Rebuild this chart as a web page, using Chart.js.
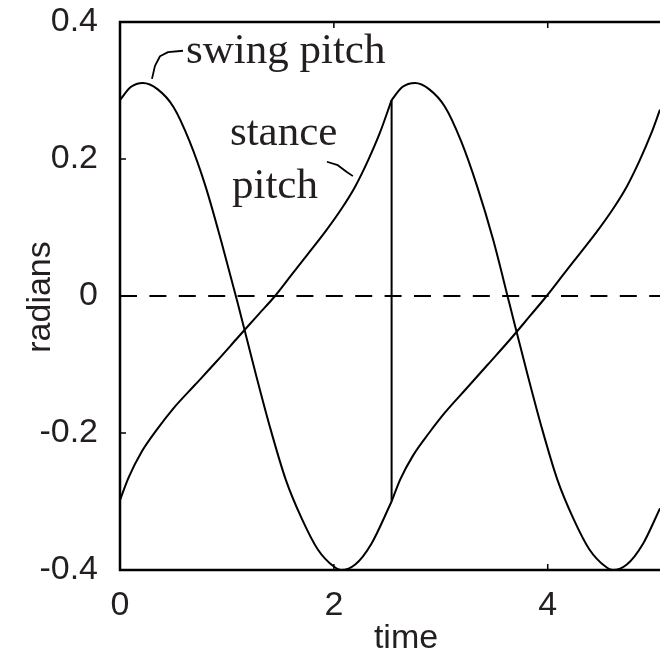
<!DOCTYPE html>
<html>
<head>
<meta charset="utf-8">
<script src="https://cdn.jsdelivr.net/npm/chart.js@4.4.1/dist/chart.umd.min.js"></script>
<style>
  html, body { margin: 0; padding: 0; background: #fff; }
  #wrap { width: 660px; height: 657px; position: relative; }
</style>
</head>
<body>
<div id="wrap"><canvas id="chartPitch"></canvas></div>
<script>
// axis setup
const xTicks = [0, 2, 4];
const xTickLabels = ['0', '2', '4'];
const yTicks = [-0.4, -0.2, 0, 0.2, 0.4];
const yTickLabels = ['-0.4', '-0.2', '0', '0.2', '0.4'];
const xMax = 5.05;

// first step: leg A swings, leg B stands
const swingT1 = [0, 0.1, 0.215, 0.35, 0.5, 0.65, 0.8, 0.95, 1.1, 1.25, 1.4, 1.55, 1.7, 1.85, 2.0, 2.07, 2.2, 2.35, 2.54];
const swingY1 = [0.286, 0.305, 0.311, 0.302, 0.276, 0.226, 0.160, 0.078, -0.010, -0.102, -0.190, -0.268, -0.325, -0.370, -0.395, -0.400, -0.392, -0.362, -0.300];
const stanceT1 = [0, 0.08, 0.2, 0.35, 0.5, 0.7, 0.9, 1.1, 1.3, 1.45, 1.6, 1.76, 1.92, 2.07, 2.2, 2.32, 2.43, 2.54];
const stanceY1 = [-0.298, -0.265, -0.228, -0.194, -0.164, -0.130, -0.096, -0.061, -0.026, 0.000, 0.030, 0.062, 0.094, 0.127, 0.160, 0.198, 0.238, 0.286];

// second step: legs swap at heel strike
const swingT2 = [2.54, 2.64, 2.76, 2.89, 3.04, 3.19, 3.34, 3.49, 3.64, 3.79, 3.94, 4.09, 4.24, 4.39, 4.54, 4.61, 4.74, 4.89, 5.05];
const swingY2 = [0.286, 0.305, 0.311, 0.302, 0.276, 0.226, 0.160, 0.082, -0.010, -0.102, -0.190, -0.268, -0.325, -0.370, -0.395, -0.400, -0.392, -0.362, -0.310];
const stanceT2 = [2.54, 2.62, 2.74, 2.89, 3.04, 3.24, 3.44, 3.64, 3.84, 3.99, 4.14, 4.30, 4.46, 4.61, 4.74, 4.86, 4.97, 5.05];
const stanceY2 = [-0.300, -0.268, -0.233, -0.200, -0.170, -0.135, -0.100, -0.065, -0.028, 0.000, 0.030, 0.062, 0.094, 0.127, 0.160, 0.198, 0.238, 0.272];

// callouts, in data units
const swingLabel = { text: 'swing pitch', t: 0.617, y: 0.340 };
const swingLeader = [[0.299, 0.317], [0.327, 0.336], [0.374, 0.350], [0.449, 0.356], [0.589, 0.358]];
const stanceLabel = [{ text: 'stance', t: 1.028, y: 0.220 }, { text: 'pitch', t: 1.047, y: 0.143 }];
const stanceLeader = [[1.935, 0.196], [2.037, 0.191], [2.121, 0.181], [2.178, 0.175]];

const INK = '#000';
const TEXT = '#231f20';
const SANS = '"Liberation Sans", Arial, Helvetica, sans-serif';
const SERIF = '"Liberation Serif", "Times New Roman", serif';

function _pts(ts, ys) {
  return ts.map((t, i) => ({ x: t, y: ys[i] }));
}

function _curve(ts, ys) {
  return {
    data: _pts(ts, ys),
    borderColor: INK,
    borderWidth: 2,
    pointRadius: 0,
    cubicInterpolationMode: 'monotone',
    fill: false
  };
}

const stepT = swingT1[swingT1.length - 1];
const datasets = [
  _curve(swingT1, swingY1),
  _curve(stanceT1, stanceY1),
  _curve(swingT2, swingY2),
  _curve(stanceT2, stanceY2),
  {
    // heel strike
    data: [{ x: stepT, y: swingY1[swingY1.length - 1] }, { x: stepT, y: stanceY1[stanceY1.length - 1] }],
    borderColor: INK, borderWidth: 2, pointRadius: 0
  },
  {
    data: [{ x: 0, y: 0 }, { x: xMax, y: 0 }],
    borderColor: INK, borderWidth: 2, borderDash: [17, 12.4], pointRadius: 0
  }
];

const framePlugin = {
  id: 'frameAndNotes',
  afterDraw(chart) {
    const { ctx, chartArea: a, scales: { x, y } } = chart;
    ctx.save();

    // box: left, top, bottom (right side runs off the figure)
    ctx.strokeStyle = INK;
    ctx.lineWidth = 2.5;
    ctx.beginPath();
    ctx.moveTo(a.right, a.top);
    ctx.lineTo(a.left, a.top);
    ctx.lineTo(a.left, a.bottom);
    ctx.lineTo(a.right, a.bottom);
    ctx.stroke();

    // inward ticks
    ctx.lineWidth = 1.5;
    ctx.beginPath();
    yTicks.forEach(v => {
      const py = y.getPixelForValue(v);
      ctx.moveTo(a.left, py);
      ctx.lineTo(a.left + 6, py);
    });
    xTicks.forEach(v => {
      const px = x.getPixelForValue(v);
      ctx.moveTo(px, a.bottom);
      ctx.lineTo(px, a.bottom - 6);
      ctx.moveTo(px, a.top);
      ctx.lineTo(px, a.top + 6);
    });
    ctx.stroke();

    // axis titles
    ctx.fillStyle = TEXT;
    ctx.font = `34px ${SANS}`;
    ctx.textAlign = 'center';
    ctx.textBaseline = 'alphabetic';
    ctx.fillText('time', 406, 648);
    ctx.save();
    ctx.translate(50, 297);
    ctx.rotate(-Math.PI / 2);
    ctx.fillText('radians', 0, 0);
    ctx.restore();

    // callouts
    ctx.font = `43px ${SERIF}`;
    ctx.textAlign = 'left';
    ctx.fillText(swingLabel.text, x.getPixelForValue(swingLabel.t), y.getPixelForValue(swingLabel.y));
    stanceLabel.forEach(l => ctx.fillText(l.text, x.getPixelForValue(l.t), y.getPixelForValue(l.y)));

    ctx.lineWidth = 1.8;
    ctx.lineJoin = 'round';
    [swingLeader, stanceLeader].forEach(path => {
      ctx.beginPath();
      path.forEach(([t, v], i) => {
        const px = x.getPixelForValue(t), py = y.getPixelForValue(v);
        if (i === 0) ctx.moveTo(px, py); else ctx.lineTo(px, py);
      });
      ctx.stroke();
    });

    ctx.restore();
  }
};

new Chart(document.getElementById('chartPitch'), {
  type: 'line',
  data: { datasets },
  options: {
    responsive: true,
    maintainAspectRatio: false,
    animation: false,
    devicePixelRatio: 1,
    layout: { padding: { top: 22, right: 0, bottom: 0, left: 0 } },
    plugins: { legend: { display: false }, tooltip: { enabled: false } },
    scales: {
      x: {
        type: 'linear',
        min: 0,
        max: xMax,
        afterBuildTicks: s => { s.ticks = xTicks.map(v => ({ value: v })); },
        afterFit: s => { s.height = 87; s.paddingLeft = 0; s.paddingRight = 0; },
        grid: { display: false },
        border: { display: false },
        ticks: {
          color: TEXT,
          font: { family: SANS, size: 34 },
          padding: 7,
          maxRotation: 0,
          callback: (v, i) => xTickLabels[i]
        }
      },
      y: {
        type: 'linear',
        min: -0.4,
        max: 0.4,
        afterBuildTicks: s => { s.ticks = yTicks.map(v => ({ value: v })); },
        afterFit: s => { s.width = 120; s.paddingTop = 0; s.paddingBottom = 0; },
        grid: { display: false },
        border: { display: false },
        ticks: {
          color: TEXT,
          font: { family: SANS, size: 34 },
          padding: 14,
          callback: (v, i) => yTickLabels[i]
        }
      }
    }
  },
  plugins: [framePlugin]
});
</script>
</body>
</html>
